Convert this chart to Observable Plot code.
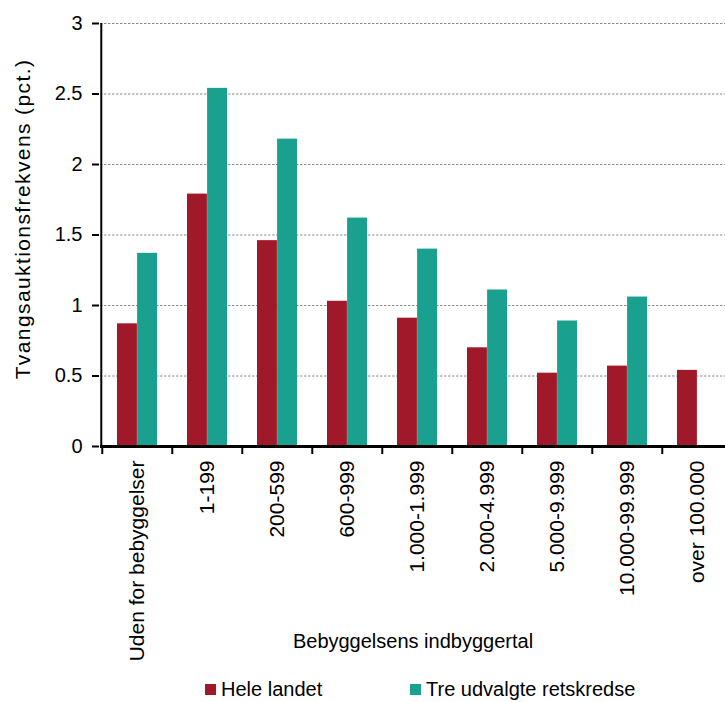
<!DOCTYPE html>
<html>
<head>
<meta charset="utf-8">
<script src="https://cdn.jsdelivr.net/npm/d3@7"></script>
<script src="https://cdn.jsdelivr.net/npm/@observablehq/plot@0.6"></script>
<style>
  html, body { margin: 0; padding: 0; background: #fff; overflow: hidden; }
  #wrap { position: relative; width: 725px; height: 702px; overflow: hidden; font-family: "Liberation Sans", Arial, sans-serif; color: #000; }
  #chart { position: absolute; left: 0; top: 0; width: 735px; }
  #chart svg { max-width: none !important; }
  .ytitle { position: absolute; left: 23px; top: 219px; transform: translate(-50%, -50%) rotate(-90deg); font-size: 21px; letter-spacing: 1.4px; white-space: nowrap; }
  .xtitle { position: absolute; left: 413px; top: 641px; transform: translate(-50%, -50%); font-size: 20px; white-space: nowrap; }
  .legend { position: absolute; top: 678px; left: 0; font-size: 20px; line-height: 22px; white-space: nowrap; }
  .item { position: absolute; top: 0; display: flex; align-items: center; }
  .sw { width: 11px; height: 11px; margin-right: 5px; display: inline-block; }
</style>
</head>
<body>
<div id="wrap">
  <div id="chart"></div>
  <div class="ytitle">Tvangsauktionsfrekvens (pct.)</div>
  <div class="xtitle">Bebyggelsens indbyggertal</div>
  <div class="legend">
    <div class="item" style="left:205px"><span class="sw" id="sw0"></span><span id="lg0"></span></div>
    <div class="item" style="left:410px"><span class="sw" id="sw1"></span><span id="lg1"></span></div>
  </div>
</div>
<script>
const categories = ["Uden for bebyggelser", "1-199", "200-599", "600-999", "1.000-1.999", "2.000-4.999", "5.000-9.999", "10.000-99.999", "over 100.000"];
const seriesNames = ["Hele landet", "Tre udvalgte retskredse"];
const seriesColors = ["#A0192A", "#1AA08F"];
const heleLandet = [0.87, 1.79, 1.46, 1.03, 0.91, 0.70, 0.52, 0.57, 0.54];
const treRetskredse = [1.37, 2.54, 2.18, 1.62, 1.40, 1.11, 0.89, 1.06, null];
const yTicks = [0, 0.5, 1, 1.5, 2, 2.5, 3];

const dataA = categories.map((c, i) => ({cat: c, v: heleLandet[i]}));
const dataB = categories.map((c, i) => ({cat: c, v: treRetskredse[i]})).filter(d => d.v != null);

const W = 735, H = 702, mL = 100, mR = 1, mT = 23, mB = 256;
const step = (W - mL - mR) / categories.length;

document.getElementById("sw0").style.background = seriesColors[0];
document.getElementById("sw1").style.background = seriesColors[1];
document.getElementById("lg0").textContent = seriesNames[0];
document.getElementById("lg1").textContent = seriesNames[1];

const chart = Plot.plot({
  width: W,
  height: H,
  marginLeft: mL,
  marginRight: mR,
  marginTop: mT,
  marginBottom: mB,
  style: {fontFamily: "'Liberation Sans', Arial, sans-serif", fontSize: "20px", color: "#000", background: "#fff", overflow: "visible", maxWidth: "none"},
  x: {type: "band", domain: categories, paddingInner: 0.432, paddingOuter: 0.216, label: null},
  y: {domain: [0, 3], label: null},
  marks: [
    Plot.ruleY(yTicks.filter(t => t > 0), {stroke: "#8c8c8c", strokeWidth: 1, strokeDasharray: "2.5,1.5"}),
    Plot.barY(dataA, {x: "cat", y: "v", fill: seriesColors[0], insetRight: 20.1}),
    Plot.barY(dataB, {x: "cat", y: "v", fill: seriesColors[1], insetLeft: 20.1}),
    Plot.ruleY([0], {stroke: "#000", strokeWidth: 3}),
    Plot.ruleX([categories[0]], {x: d => d, dx: -step / 2 - 1, y1: d => 0, y2: d => 3, stroke: "#000", strokeWidth: 2}),
    Plot.ruleX(categories, {x: d => d, dx: -step / 2, y1: d => 0, y2: d => 0, insetBottom: -8, stroke: "#000", strokeWidth: 2}),
    Plot.axisY({ticks: yTicks, tickSize: 7, tickPadding: 10, fontSize: 20, tickFormat: d => String(d), strokeWidth: 2, label: null, dx: -1}),
    Plot.axisX({tickSize: 0, tickPadding: 14, tickRotate: -90, fontSize: 21, label: null})
  ]
});
document.getElementById("chart").appendChild(chart);
</script>
</body>
</html>
